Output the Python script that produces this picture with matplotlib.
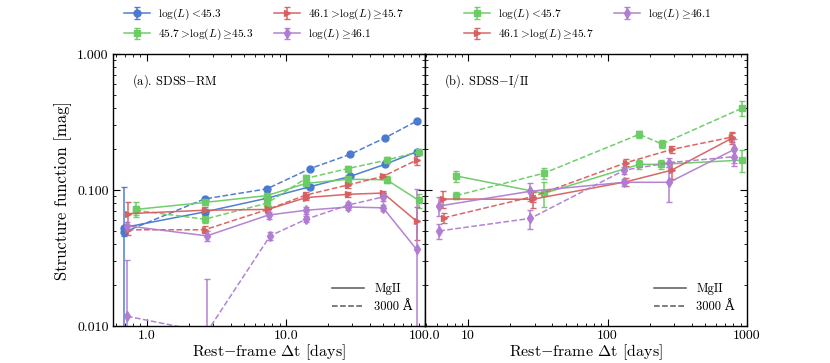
import numpy as np
import matplotlib
matplotlib.use('Agg')
import matplotlib.pyplot as plt
from matplotlib.ticker import FixedLocator, FixedFormatter, LogLocator, NullFormatter
from matplotlib.lines import Line2D

plt.rcParams['font.family'] = ['cmr10', 'DejaVu Serif']
plt.rcParams['mathtext.fontset'] = 'cm'
plt.rcParams['axes.formatter.use_mathtext'] = True

C_BLUE, C_GREEN, C_RED, C_PURPLE = '#4878d0', '#6acc64', '#d65f5f', '#b07cd0'

# ---------- (a) SDSS-RM : MgII (solid) / 3000A (dashed) ----------
a_blue_x   = [0.685, 2.6, 7.3, 15, 29, 52, 87]
a_blue_mg  = [0.053, 0.069, 0.087, 0.106, 0.126, 0.155, 0.191]
a_blue_mge = [0.053, 0.003, 0.003, 0.003, 0.004, 0.005, 0.006]
a_blue_uv  = [0.049, 0.086, 0.102, 0.144, 0.183, 0.243, 0.321]
a_blue_uve = [0.003, 0.003, 0.003, 0.004, 0.005, 0.007, 0.010]

a_green_x   = [0.83, 2.6, 7.3, 14, 28, 53, 90]
a_green_mg  = [0.072, 0.081, 0.091, 0.112, 0.120, 0.119, 0.084]
a_green_mge = [0.009, 0.004, 0.006, 0.008, 0.008, 0.007, 0.010]
a_green_uv  = [0.071, 0.061, 0.080, 0.122, 0.144, 0.166, 0.191]
a_green_uve = [0.005, 0.004, 0.005, 0.006, 0.007, 0.008, 0.010]

a_red_x   = [0.73, 2.6, 7.4, 14, 28, 50, 87]
a_red_mg  = [0.067, 0.071, 0.072, 0.088, 0.093, 0.095, 0.059]
a_red_mge = [0.015, 0.004, 0.004, 0.004, 0.004, 0.004, 0.016]
a_red_uv  = [0.051, 0.051, 0.072, 0.092, 0.109, 0.126, 0.166]
a_red_uve = [0.004, 0.003, 0.004, 0.004, 0.005, 0.006, 0.012]

a_purple_x   = [0.72, 2.7, 7.5, 14, 28, 50, 87]
a_purple_mg  = [0.0545, 0.046, 0.0655, 0.071, 0.075, 0.074, 0.0366]
a_purple_mge = [0.004, 0.004, 0.004, 0.004, 0.004, 0.004, 0.065]
a_purple_uvx = [0.72, 2.7, 7.7, 14, 28, 50]
a_purple_uv  = [0.0118, 0.009, 0.046, 0.061, 0.0775, 0.089]
a_purple_uve = [0.019, 0.013, 0.003, 0.003, 0.004, 0.006]

# ---------- (b) SDSS-I/II ----------
b_green_x   = [8.2, 35, 169, 241, 916]
b_green_mg  = [0.127, 0.0945, 0.1545, 0.1545, 0.166]
b_green_mge = [0.012, 0.020, 0.012, 0.012, 0.030]
b_green_uvx = [8.2, 35, 169, 245, 916]
b_green_uv  = [0.091, 0.133, 0.257, 0.218, 0.399]
b_green_uve = [0.005, 0.012, 0.015, 0.015, 0.050]

b_red_x   = [6.65, 29, 136, 288, 776]
b_red_mg  = [0.0859, 0.0855, 0.115, 0.140, 0.240]
b_red_mge = [0.012, 0.012, 0.008, 0.020, 0.022]
b_red_uvx = [6.7, 29, 136, 290, 776]
b_red_uv  = [0.0625, 0.0894, 0.159, 0.199, 0.245]
b_red_uve = [0.005, 0.008, 0.010, 0.012, 0.020]

b_purple_x   = [6.2, 28, 132, 277, 811]
b_purple_mg  = [0.0763, 0.098, 0.114, 0.114, 0.199]
b_purple_mge = [0.012, 0.015, 0.007, 0.033, 0.040]
b_purple_uv  = [0.050, 0.0619, 0.140, 0.159, 0.176]
b_purple_uve = [0.006, 0.010, 0.008, 0.012, 0.025]

a_labels = [r'$\log(L)<\!45.3$', r'$45.7>\!\log(L)\geq\!45.3$',
            r'$46.1>\!\log(L)\geq\!45.7$', r'$\log(L)\geq\!46.1$']
b_labels = [r'$\log(L)<\!45.7$', r'$46.1>\!\log(L)\geq\!45.7$',
            r'$\log(L)\geq\!46.1$']


def series(ax, x, y, e, color, marker, ls, label=None):
    return ax.errorbar(x, y, yerr=e, color=color, marker=marker, ms=5, ls=ls,
                       lw=1.1, elinewidth=1.1, capsize=2.5, capthick=1.0,
                       ecolor=color, label=label, alpha=0.95)


fig = plt.figure(figsize=(8.3, 3.63), dpi=100)
axa = fig.add_axes([0.136, 0.102, 0.376, 0.749])
axb = fig.add_axes([0.512, 0.102, 0.388, 0.749], sharey=axa)

ha = []
ha.append(series(axa, a_blue_x, a_blue_mg, a_blue_mge, C_BLUE, 'o', '-', a_labels[0]))
series(axa, a_blue_x, a_blue_uv, a_blue_uve, C_BLUE, 'o', '--')
ha.append(series(axa, a_green_x, a_green_mg, a_green_mge, C_GREEN, 's', '-', a_labels[1]))
series(axa, a_green_x, a_green_uv, a_green_uve, C_GREEN, 's', '--')
ha.append(series(axa, a_red_x, a_red_mg, a_red_mge, C_RED, '>', '-', a_labels[2]))
series(axa, a_red_x, a_red_uv, a_red_uve, C_RED, '>', '--')
ha.append(series(axa, a_purple_x, a_purple_mg, a_purple_mge, C_PURPLE, 'd', '-', a_labels[3]))
series(axa, a_purple_uvx, a_purple_uv, a_purple_uve, C_PURPLE, 'd', '--')

hb = []
hb.append(series(axb, b_green_x, b_green_mg, b_green_mge, C_GREEN, 's', '-', b_labels[0]))
series(axb, b_green_uvx, b_green_uv, b_green_uve, C_GREEN, 's', '--')
hb.append(series(axb, b_red_x, b_red_mg, b_red_mge, C_RED, '>', '-', b_labels[1]))
series(axb, b_red_uvx, b_red_uv, b_red_uve, C_RED, '>', '--')
hb.append(series(axb, b_purple_x, b_purple_mg, b_purple_mge, C_PURPLE, 'd', '-', b_labels[2]))
series(axb, b_purple_x, b_purple_uv, b_purple_uve, C_PURPLE, 'd', '--')

for ax in (axa, axb):
    ax.set_xscale('log')
    ax.set_yscale('log')
    ax.tick_params(which='both', direction='in', top=True, right=True, labelsize=10)
    ax.tick_params(which='major', length=5, pad=3)
    ax.tick_params(which='minor', length=2.5)
    for s in ax.spines.values():
        s.set_linewidth(1.0)
    style = [Line2D([], [], color='0.35', ls='-', lw=1.1),
             Line2D([], [], color='0.35', ls='--', lw=1.1)]
    ax.legend(style, ['MgII', r'3000 Å'], loc='lower right', frameon=False,
              fontsize=9, handlelength=2.6, borderaxespad=0.6)

axa.set_ylim(0.01, 1.0)
axa.yaxis.set_major_locator(FixedLocator([0.01, 0.1, 1.0]))
axa.yaxis.set_major_formatter(FixedFormatter(['0.010', '0.100', '1.000']))
axa.yaxis.set_minor_locator(LogLocator(subs=np.arange(2, 10)))
axa.yaxis.set_minor_formatter(NullFormatter())
plt.setp(axb.get_yticklabels(), visible=False)

axa.set_xlim(0.57, 100)
axa.xaxis.set_major_locator(FixedLocator([1, 10, 100]))
axa.xaxis.set_major_formatter(FixedFormatter(['1.0', '10.0', '100.0']))
axa.xaxis.set_minor_formatter(NullFormatter())
axb.set_xlim(4.9, 1000)
axb.xaxis.set_major_locator(FixedLocator([10, 100, 1000]))
axb.xaxis.set_major_formatter(FixedFormatter(['10', '100', '1000']))
axb.xaxis.set_minor_formatter(NullFormatter())

axa.text(0.06, 0.9, r'(a). SDSS$-$RM', transform=axa.transAxes, fontsize=9, va='center')
axb.text(0.06, 0.9, r'(b). SDSS$-$I/II', transform=axb.transAxes, fontsize=9, va='center')

axa.set_ylabel('Structure function [mag]', fontsize=12)
axa.set_xlabel(r'Rest$-$frame $\Delta$t [days]', fontsize=11.5, labelpad=0)
axb.set_xlabel(r'Rest$-$frame $\Delta$t [days]', fontsize=11.5, labelpad=0)

leg_kw = dict(loc='upper center', ncol=2, frameon=False, fontsize=8.2,
              handlelength=2.3, columnspacing=1.8, labelspacing=0.45,
              handletextpad=0.7)
fig.legend(ha, a_labels, bbox_to_anchor=(0.318, 1.01), **leg_kw)
fig.legend(hb, b_labels, bbox_to_anchor=(0.708, 1.01), **leg_kw)

fig.savefig('out.png', dpi=100)
